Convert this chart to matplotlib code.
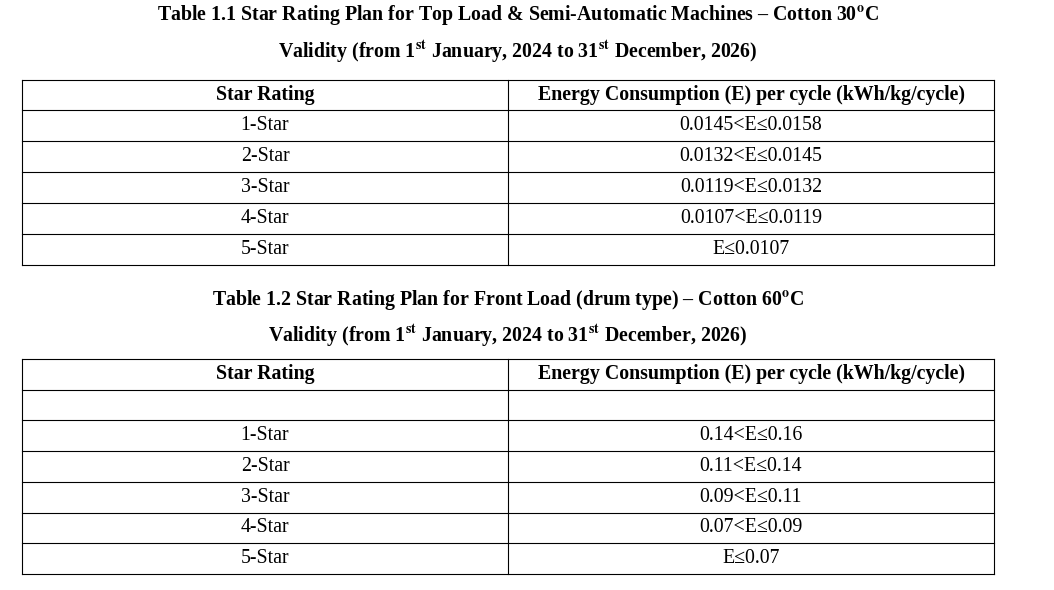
import matplotlib
matplotlib.use("Agg")
import matplotlib.pyplot as plt

plt.rcParams.update({
    "font.family": "Liberation Serif",
    "mathtext.fontset": "stix",
})

# ── data ─────────────────────────────────────────────────────────────────────
ratings = ["1-Star", "2-Star", "3-Star", "4-Star", "5-Star"]
header = ["Star Rating", "Energy Consumption (E) per cycle (kWh/kg/cycle)"]
top_load = ["0.0145<E≤0.0158", "0.0132<E≤0.0145", "0.0119<E≤0.0132",
            "0.0107<E≤0.0119", "E≤0.0107"]
front_load = ["0.14<E≤0.16", "0.11<E≤0.14", "0.09<E≤0.11",
              "0.07<E≤0.09", "E≤0.07"]

title1 = r"Table 1.1 Star Rating Plan for Top Load & Semi-Automatic Machines – Cotton 30$^{\mathbf{o}}$C"
title2 = r"Table 1.2 Star Rating Plan for Front Load (drum type) – Cotton 60$^{\mathbf{o}}$C"
validity = r"Validity (from 1$^{\mathbf{st}}$ January, 2024 to 31$^{\mathbf{st}}$ December, 2026)"

X0, XM, X1 = 22, 508, 994
FS = 14.3


def draw_table(ax, top, rows, row_h=30.8):
    n = len(rows) + 1
    bottom = top + n * row_h
    for i in range(n + 1):
        ax.plot([X0, X1], [top + i * row_h] * 2, color="black", lw=0.8)
    for x in (X0, XM, X1):
        ax.plot([x, x], [top, bottom], color="black", lw=0.8)
    cy = top + row_h / 2
    ax.text((X0 + XM) / 2, cy, header[0], ha="center", va="center",
            fontsize=FS, fontweight="bold")
    ax.text((XM + X1) / 2, cy, header[1], ha="center", va="center",
            fontsize=FS, fontweight="bold")
    for i, (a, b) in enumerate(rows):
        cy = top + (i + 1.5) * row_h
        ax.text((X0 + XM) / 2, cy, a, ha="center", va="center", fontsize=FS)
        ax.text((XM + X1) / 2, cy, b, ha="center", va="center", fontsize=FS)


fig = plt.figure(figsize=(10.54, 5.90), dpi=100)
ax = fig.add_axes([0, 0, 1, 1])
ax.set_xlim(0, 1054)
ax.set_ylim(590, 0)
ax.axis("off")

ax.text(518, 15, title1, ha="center", va="center", fontsize=FS, fontweight="bold")
ax.text(518, 51, validity, ha="center", va="center", fontsize=FS, fontweight="bold")
draw_table(ax, 79.5, list(zip(ratings, top_load)), row_h=30.9)

ax.text(508, 300, title2, ha="center", va="center", fontsize=FS, fontweight="bold")
ax.text(508, 335, validity, ha="center", va="center", fontsize=FS, fontweight="bold")
draw_table(ax, 359, [("", "")] + list(zip(ratings, front_load)), row_h=30.7)

fig.savefig("out.png")
